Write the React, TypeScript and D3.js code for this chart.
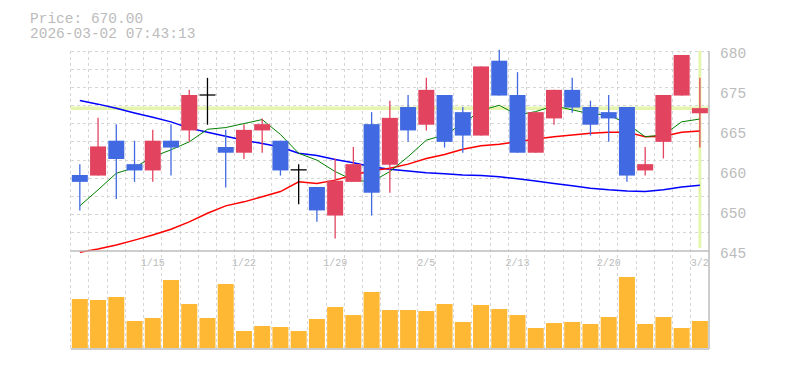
import React from 'react';
import * as d3 from 'd3';

const dates = ['1/8', '1/9', '1/13', '1/14', '1/15', '1/16', '1/19', '1/20', '1/21', '1/22', '1/23', '1/26', '1/27', '1/28', '1/29', '1/30', '2/2', '2/3', '2/4', '2/5', '2/6', '2/9', '2/10', '2/12', '2/13', '2/16', '2/17', '2/18', '2/19', '2/20', '2/24', '2/25', '2/26', '2/27', '3/2'];
const opens = [658.3, 658.2, 664.3, 660.2, 659.1, 664.3, 666.1, 672.3, 663.2, 662.2, 666.1, 664.3, 659.2, 656.2, 651.2, 657.1, 667.2, 660.1, 670.2, 667.1, 672.3, 669.3, 665.2, 678.3, 672.3, 662.2, 668.2, 673.2, 670.2, 669.3, 670.2, 659.1, 664.1, 672.2, 669.1];
const closes = [657.1, 663.3, 661.1, 659.1, 664.3, 663.1, 672.3, 672.3, 662.2, 666.2, 667.2, 659.1, 659.2, 652.1, 657.3, 660.2, 655.2, 668.3, 666.1, 673.2, 664.1, 665.2, 677.3, 672.2, 662.2, 669.3, 673.2, 670.1, 667.1, 668.2, 658.2, 660.2, 672.3, 679.3, 670.0];
const highs = [660.2, 668.3, 667.2, 664.3, 666.2, 667.2, 673.2, 675.3, 666.2, 667.2, 668.2, 664.3, 660.2, 656.2, 661.2, 663.2, 669.3, 671.3, 672.3, 675.3, 672.3, 670.2, 677.3, 680.2, 676.3, 669.3, 673.2, 675.3, 671.3, 672.3, 670.2, 663.2, 672.3, 679.3, 675.3];
const lows = [652.1, 658.2, 654.1, 657.1, 657.1, 658.2, 664.1, 667.1, 656.1, 661.1, 662.2, 658.2, 653.2, 650.1, 647.2, 657.1, 651.2, 655.2, 664.1, 666.1, 663.1, 662.2, 665.2, 672.2, 662.2, 662.2, 667.1, 669.2, 665.2, 664.1, 657.1, 658.2, 661.2, 672.2, 663.1];
const volumes = [49000, 48000, 51000, 27000, 30000, 68000, 44000, 30000, 64000, 17000, 22000, 21000, 17000, 29000, 41000, 33000, 56000, 38000, 38000, 37000, 44000, 26000, 43000, 39000, 33000, 20000, 25000, 26000, 24000, 31000, 71000, 24000, 31000, 20000, 27000];
const maShort = [652.9, 655.7, 658.6, 659.6, 661.5, 662.7, 664.1, 666.3, 666.6, 667.3, 668.0, 665.4, 662.1, 660.9, 658.9, 657.4, 657.1, 658.9, 661.5, 664.4, 665.3, 667.3, 669.6, 670.5, 668.8, 669.4, 670.4, 669.7, 669.0, 668.8, 667.3, 665.0, 665.3, 667.6, 668.1];
const maMid = [644.8, 645.35, 646.05, 646.9, 647.8, 648.8, 650.1, 651.6, 652.9, 653.6, 654.5, 655.4, 657.1, 656.8, 657.4, 658.3, 659.05, 659.5, 660.2, 661.2, 661.9, 662.8, 663.4, 663.7, 664.1, 664.6, 665.0, 665.3, 665.6, 665.8, 665.8, 665.0, 665.1, 665.8, 666.0];
const maLong = [671.35, 670.7, 669.97, 669.15, 668.4, 667.6, 666.5, 665.8, 665.1, 664.4, 663.8, 663.2, 662.1, 661.7, 661.0, 660.45, 659.75, 659.3, 659.0, 658.7, 658.5, 658.3, 658.2, 658.0, 657.65, 657.25, 656.8, 656.4, 656.0, 655.7, 655.5, 655.4, 655.7, 656.2, 656.5];

const yTickValues = [680, 673, 666, 659, 652, 645];
const yTickLabels = ['680', '675', '665', '660', '650', '645'];
const xTickLabels = ['1/15', '1/22', '1/29', '2/5', '2/13', '2/20', '3/2'];
const currentPrice = 670;
const headerLines = ['Price: 670.00', '2026-03-02 07:43:13'];

const W = 785;
const H = 370;
const left = 70.7;
const right = 709;
const priceTop = 51;
const priceBottom = 251;
const volBottom = 349;

const RED = '#e2445f';
const BLUE = '#4169e1';
const GRID = '#d6d6d6';
const AXIS = '#bdbdbd';
const TEXT = '#bbbbbb';
const HILITE = '#e5f5ad';
const FONT = '"Liberation Mono", "DejaVu Sans Mono", monospace';

export default function App() {
    const pad = 1 - 16 / ((right - left) / dates.length);
    const x = d3.scaleBand<string>()
        .domain(dates)
        .range([left, right])
        .paddingInner(pad)
        .paddingOuter(pad / 2);
    const step = x.step();
    const bw = x.bandwidth();
    const cx = (d: string) => (x(d) ?? 0) + bw / 2;

    const y = d3.scaleLinear().domain([645, 680]).range([priceBottom, priceTop]);
    const yVol = d3.scaleLinear().domain([0, 97000]).range([volBottom - 1, priceBottom]);

    // square-ish grid cells: 35 columns, 11 rows
    const vLines = d3.range(0, dates.length).map(k => left + k * step);
    const hLines = d3.range(0, 11).map(k => priceTop + k * (priceBottom - priceTop) / 11);

    const lineOf = (vals: number[]) => d3.line<number>()
        .x((_, i) => cx(dates[i]))
        .y(v => y(v))(vals) ?? '';

    const last = dates[dates.length - 1];

    return (
        <svg width={W} height={H} style={{ position: 'absolute', left: 0, top: 0, background: '#fff' }}>
            {/* header */}
            {headerLines.map((t, i) => (
                <text key={t} x={30} y={23 + i * 15} fill={TEXT} fontFamily={FONT} fontSize={14.5}>{t}</text>
            ))}

            {/* grid */}
            <g stroke={GRID} strokeWidth={1} strokeDasharray="3,3" shapeRendering="crispEdges">
                {hLines.map((v, i) => <line key={'h' + i} x1={left} x2={right} y1={v} y2={v} />)}
                {vLines.map((v, i) => <line key={'v' + i} x1={v} x2={v} y1={priceTop} y2={volBottom} />)}
            </g>

            {/* highlight lines for current price / last day */}
            <line x1={left} x2={right} y1={y(currentPrice)} y2={y(currentPrice)} stroke={HILITE} strokeWidth={3.5} />
            <line x1={cx(last)} x2={cx(last)} y1={priceTop} y2={priceBottom - 3} stroke={HILITE} strokeWidth={3} />

            {/* moving averages */}
            <path d={lineOf(maLong)} fill="none" stroke="#0000ff" strokeWidth={1.5} />
            <path d={lineOf(maMid)} fill="none" stroke="#ff0000" strokeWidth={1.5} />
            <path d={lineOf(maShort)} fill="none" stroke="#008000" strokeWidth={1} />

            {/* candles */}
            {dates.map((d, i) => {
                const o = opens[i], c = closes[i];
                const doji = o === c;
                const col = doji ? '#000' : c > o ? RED : BLUE;
                const top = y(Math.max(o, c));
                const bot = y(Math.min(o, c));
                return (
                    <g key={d}>
                        <line x1={cx(d)} x2={cx(d)} y1={y(highs[i])} y2={y(lows[i])} stroke={col} strokeWidth={1.3} />
                        {doji
                            ? <line x1={x(d)} x2={(x(d) ?? 0) + bw} y1={top} y2={top} stroke={col} strokeWidth={1.3} />
                            : <rect x={x(d)} y={top} width={bw} height={Math.max(1, bot - top)} fill={col} />}
                    </g>
                );
            })}

            {/* volume */}
            {dates.map((d, i) => (
                <rect key={'vol' + d} x={x(d)} y={yVol(volumes[i])} width={bw} height={yVol(0) - yVol(volumes[i])} fill="#ffb833" />
            ))}

            {/* frame */}
            <g stroke={AXIS} strokeWidth={1.5} fill="none">
                <line x1={left} x2={right} y1={priceBottom} y2={priceBottom} />
                <line x1={left} x2={right} y1={volBottom} y2={volBottom} />
                <line x1={right} x2={right} y1={priceTop} y2={volBottom} />
            </g>

            {/* price labels */}
            {yTickValues.map((v, i) => (
                <text key={'yt' + i} x={720} y={y(v) + 7} fill={TEXT} fontFamily={FONT} fontSize={14.5}>{yTickLabels[i]}</text>
            ))}

            {/* date labels */}
            {xTickLabels.map(t => (
                <text key={'xt' + t} x={cx(t)} y={266} textAnchor="middle" fill={TEXT} fontFamily={FONT} fontSize={10}>{t}</text>
            ))}
        </svg>
    );
}
